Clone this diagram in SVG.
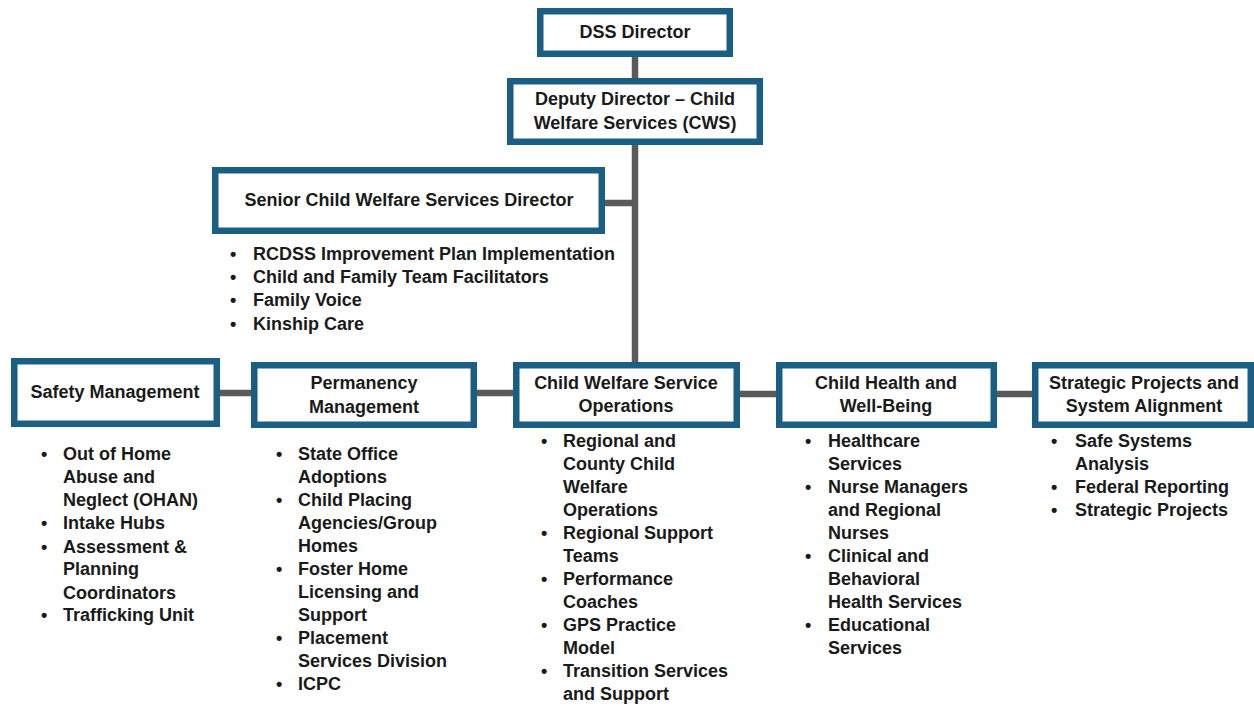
<svg xmlns="http://www.w3.org/2000/svg" width="1254" height="707" viewBox="0 0 1254 707">
<style>
.box{fill:#ffffff;stroke:#1a5e83;stroke-width:6.5}
.conn{stroke:#5a5a5a;stroke-width:6.5;fill:none}
.t{font-family:"Liberation Sans",Arial,sans-serif;font-weight:bold;font-size:18px;fill:#1a1a1a}
.c{text-anchor:middle}
</style>
<rect width="1254" height="707" fill="#ffffff"/>
<g id="connectors">
<line class="conn" x1="635" y1="55" x2="635" y2="80"/>
<line class="conn" x1="635" y1="143" x2="635" y2="364"/>
<line class="conn" x1="603" y1="203" x2="635" y2="203"/>
<line class="conn" x1="218" y1="393" x2="253" y2="393"/>
<line class="conn" x1="475" y1="393" x2="515" y2="393"/>
<line class="conn" x1="738" y1="394" x2="778" y2="394"/>
<line class="conn" x1="995" y1="394" x2="1034" y2="394"/>
</g>
<g id="dss-director">
<rect class="box" x="540.25" y="11.25" width="189.5" height="42.5"/>
<text class="t c" x="635" y="38">DSS Director</text>
</g>
<g id="deputy-director">
<rect class="box" x="510.25" y="81.25" width="249.5" height="60.5"/>
<text class="t c" x="635" y="105">Deputy Director – Child</text>
<text class="t c" x="635" y="129">Welfare Services (CWS)</text>
</g>
<g id="senior-director">
<rect class="box" x="215.25" y="170.25" width="386.5" height="60.5"/>
<text class="t c" x="409" y="206">Senior Child Welfare Services Director</text>
<text class="t" x="230" y="260">•</text>
<text class="t" x="253" y="260">RCDSS Improvement Plan Implementation</text>
<text class="t" x="230" y="283">•</text>
<text class="t" x="253" y="283">Child and Family Team Facilitators</text>
<text class="t" x="230" y="306">•</text>
<text class="t" x="253" y="306">Family Voice</text>
<text class="t" x="230" y="330">•</text>
<text class="t" x="253" y="330">Kinship Care</text>
</g>
<g id="safety-management">
<rect class="box" x="14.25" y="361.25" width="202.5" height="62.5"/>
<text class="t c" x="115" y="398">Safety Management</text>
<text class="t" x="41" y="460">•</text>
<text class="t" x="63" y="460">Out of Home</text>
<text class="t" x="63" y="483">Abuse and</text>
<text class="t" x="63" y="506">Neglect (OHAN)</text>
<text class="t" x="41" y="529">•</text>
<text class="t" x="63" y="529">Intake Hubs</text>
<text class="t" x="41" y="553">•</text>
<text class="t" x="63" y="553">Assessment &amp;</text>
<text class="t" x="63" y="575">Planning</text>
<text class="t" x="63" y="599">Coordinators</text>
<text class="t" x="41" y="621">•</text>
<text class="t" x="63" y="621">Trafficking Unit</text>
</g>
<g id="permanency-management">
<rect class="box" x="254.25" y="365.25" width="219.5" height="59.5"/>
<text class="t c" x="364" y="389">Permanency</text>
<text class="t c" x="364" y="413">Management</text>
<text class="t" x="276" y="460">•</text>
<text class="t" x="298" y="460">State Office</text>
<text class="t" x="298" y="483">Adoptions</text>
<text class="t" x="276" y="506">•</text>
<text class="t" x="298" y="506">Child Placing</text>
<text class="t" x="298" y="529">Agencies/Group</text>
<text class="t" x="298" y="552">Homes</text>
<text class="t" x="276" y="575">•</text>
<text class="t" x="298" y="575">Foster Home</text>
<text class="t" x="298" y="598">Licensing and</text>
<text class="t" x="298" y="621">Support</text>
<text class="t" x="276" y="644">•</text>
<text class="t" x="298" y="644">Placement</text>
<text class="t" x="298" y="667">Services Division</text>
<text class="t" x="276" y="690">•</text>
<text class="t" x="298" y="690">ICPC</text>
</g>
<g id="cws-operations">
<rect class="box" x="516.25" y="365.25" width="220.5" height="59.5"/>
<text class="t c" x="626" y="389">Child Welfare Service</text>
<text class="t c" x="626" y="412">Operations</text>
<text class="t" x="541" y="447">•</text>
<text class="t" x="563" y="447">Regional and</text>
<text class="t" x="563" y="470">County Child</text>
<text class="t" x="563" y="493">Welfare</text>
<text class="t" x="563" y="516">Operations</text>
<text class="t" x="541" y="539">•</text>
<text class="t" x="563" y="539">Regional Support</text>
<text class="t" x="563" y="562">Teams</text>
<text class="t" x="541" y="585">•</text>
<text class="t" x="563" y="585">Performance</text>
<text class="t" x="563" y="608">Coaches</text>
<text class="t" x="541" y="631">•</text>
<text class="t" x="563" y="631">GPS Practice</text>
<text class="t" x="563" y="654">Model</text>
<text class="t" x="541" y="677">•</text>
<text class="t" x="563" y="677">Transition Services</text>
<text class="t" x="563" y="700">and Support</text>
</g>
<g id="child-health">
<rect class="box" x="779.25" y="365.25" width="214.5" height="59.5"/>
<text class="t c" x="886" y="389">Child Health and</text>
<text class="t c" x="886" y="412">Well-Being</text>
<text class="t" x="805" y="447">•</text>
<text class="t" x="828" y="447">Healthcare</text>
<text class="t" x="828" y="470">Services</text>
<text class="t" x="805" y="493">•</text>
<text class="t" x="828" y="493">Nurse Managers</text>
<text class="t" x="828" y="516">and Regional</text>
<text class="t" x="828" y="539">Nurses</text>
<text class="t" x="805" y="562">•</text>
<text class="t" x="828" y="562">Clinical and</text>
<text class="t" x="828" y="585">Behavioral</text>
<text class="t" x="828" y="608">Health Services</text>
<text class="t" x="805" y="631">•</text>
<text class="t" x="828" y="631">Educational</text>
<text class="t" x="828" y="654">Services</text>
</g>
<g id="strategic-projects">
<rect class="box" x="1035.25" y="365.25" width="215.5" height="59.5"/>
<text class="t c" x="1144" y="389">Strategic Projects and</text>
<text class="t c" x="1144" y="412">System Alignment</text>
<text class="t" x="1051" y="447">•</text>
<text class="t" x="1075" y="447">Safe Systems</text>
<text class="t" x="1075" y="470">Analysis</text>
<text class="t" x="1051" y="493">•</text>
<text class="t" x="1075" y="493">Federal Reporting</text>
<text class="t" x="1051" y="516">•</text>
<text class="t" x="1075" y="516">Strategic Projects</text>
</g>
</svg>
